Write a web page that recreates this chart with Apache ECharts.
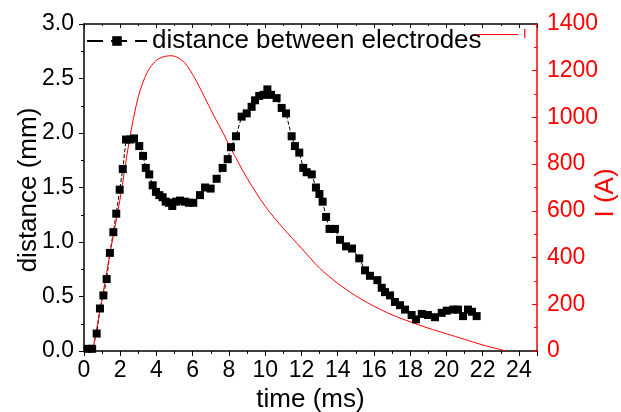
<!DOCTYPE html>
<html>
<head>
<meta charset="utf-8">
<script src="https://cdn.jsdelivr.net/npm/echarts@6/dist/echarts.min.js"></script>
<style>html,body{margin:0;padding:0;background:#fff}#c{width:621px;height:412px}</style>
</head>
<body>
<div id="c"></div>
<script>
const distTime = [0.2,0.45,0.70,0.88,1.07,1.25,1.43,1.62,1.78,1.97,2.14,2.32,2.56,2.76,3.05,3.26,3.41,3.60,3.79,3.97,4.16,4.34,4.51,4.69,4.87,5.08,5.30,5.57,5.79,6.03,6.40,6.68,6.99,7.32,7.65,7.93,8.11,8.39,8.70,8.98,9.25,9.44,9.67,9.91,10.12,10.32,10.63,10.91,11.15,11.46,11.64,11.88,12.10,12.29,12.57,12.80,12.99,13.17,13.36,13.55,13.85,14.13,14.46,14.79,15.19,15.51,15.78,16.19,16.43,16.61,16.89,17.16,17.44,17.72,18.08,18.32,18.64,18.98,19.37,19.74,20.02,20.38,20.64,20.92,21.19,21.41,21.67];
const distance = [0.02,0.02,0.16,0.39,0.51,0.66,0.90,1.09,1.26,1.48,1.67,1.94,1.94,1.95,1.88,1.79,1.68,1.62,1.52,1.46,1.43,1.41,1.37,1.36,1.33,1.37,1.38,1.37,1.36,1.36,1.43,1.50,1.49,1.58,1.68,1.76,1.87,1.97,2.15,2.18,2.24,2.30,2.34,2.35,2.40,2.35,2.32,2.23,2.18,1.97,1.88,1.82,1.68,1.64,1.62,1.50,1.44,1.37,1.23,1.12,1.12,1.02,0.96,0.94,0.85,0.74,0.69,0.65,0.58,0.54,0.51,0.45,0.42,0.38,0.33,0.29,0.34,0.33,0.31,0.35,0.37,0.38,0.38,0.32,0.38,0.36,0.32];
const currTime = [0.48,1.0,1.5,2.0,2.5,3.0,3.5,4.0,4.5,4.85,5.2,5.6,6.1,6.6,7.15,7.7,8.1,9.0,10.0,11.0,12.0,13.0,14.0,15.0,16.0,17.0,18.0,19.0,20.0,21.0,22.0,23.3];
const current = [0,225,445,655,900,1090,1195,1245,1262,1264,1255,1230,1170,1095,1010,930,868,740,620,525,440,355,290,236,192,155,125,98,74,50,26,0];
const xTicks = [0,2,4,6,8,10,12,14,16,18,20,22,24];
const seriesNames = ['distance between electrodes','I'];
const leftAxisName = 'distance (mm)';
const rightAxisName = 'I (A)';

const FONT = 'Liberation Sans';
const chart = echarts.init(document.getElementById('c'), null, {renderer:'canvas'});
const distData = distTime.map((t,i)=>[t, distance[i]]);
const currData = currTime.map((t,i)=>[t, current[i]]);

chart.setOption({
  animation:false,
  backgroundColor:'#fff',
  grid:{left:84,right:84,top:24,bottom:61,containLabel:false,outerBoundsMode:'none'},
  graphic:[{
    type:'text',x:606,y:193,rotation:Math.PI/2,
    style:{text:rightAxisName,fill:'#ff0000',font:'26px "Liberation Sans"',align:'center',verticalAlign:'middle'}
  },{
    type:'text',x:29,y:190,rotation:Math.PI/2,
    style:{text:leftAxisName,fill:'#000',font:'26px "Liberation Sans"',align:'center',verticalAlign:'middle'}
  }],
  legend:[
    {left:86,top:28,padding:0,itemWidth:60,itemHeight:12,data:[{name:seriesNames[0]}],
     lineStyle:{type:[16,8]},
     textStyle:{fontFamily:FONT,fontSize:26,color:'#000'}},
    {left:476,top:28,padding:0,itemWidth:42,itemHeight:14,
     data:[{name:seriesNames[1],icon:'path://M0,6.5L42,6.5L42,7.5L0,7.5Z'}],
     textStyle:{fontFamily:FONT,fontSize:13,color:'#ff0000'}}
  ],
  xAxis:[{
    type:'value',min:0,max:25,interval:2,position:'bottom',
    name:'time (ms)',nameLocation:'middle',nameGap:33,
    nameTextStyle:{fontFamily:FONT,fontSize:26,color:'#000'},
    axisLine:{onZero:false,lineStyle:{color:'#000',width:1.5}},
    axisTick:{inside:false,length:5,lineStyle:{color:'#000'}},
    minorTick:{show:true,splitNumber:2,length:3,lineStyle:{color:'#000'}},
    axisLabel:{fontFamily:FONT,fontSize:23,color:'#000',margin:8,showMaxLabel:false,
      formatter:v=>xTicks.indexOf(v)>=0?String(v):''},
    splitLine:{show:false}
  },{
    type:'value',min:0,max:25,interval:2,position:'top',
    axisLine:{onZero:false,lineStyle:{color:'#000',width:1.5}},
    axisTick:{inside:true,length:4,lineStyle:{color:'#000'}},
    minorTick:{show:true,splitNumber:2,length:2,lineStyle:{color:'#000'}},
    axisLabel:{show:false},splitLine:{show:false}
  }],
  yAxis:[{
    type:'value',min:0,max:3,interval:0.5,position:'left',
    axisLine:{show:true,onZero:false,lineStyle:{color:'#000',width:1.5}},
    axisTick:{show:true,inside:false,length:5,lineStyle:{color:'#000'}},
    minorTick:{show:true,splitNumber:2,length:3,lineStyle:{color:'#000'}},
    axisLabel:{fontFamily:FONT,fontSize:23,color:'#000',margin:10,formatter:v=>v.toFixed(1)},
    splitLine:{show:false}
  },{
    type:'value',min:0,max:1400,interval:200,position:'right',
    axisLine:{show:true,onZero:false,lineStyle:{color:'#ff0000',width:1.5}},
    axisTick:{show:true,inside:true,length:5,lineStyle:{color:'#ff0000'}},
    minorTick:{show:true,splitNumber:2,length:3,lineStyle:{color:'#ff0000'}},
    axisLabel:{fontFamily:FONT,fontSize:23,color:'#ff0000',margin:10,formatter:v=>String(v)},
    splitLine:{show:false}
  }],
  series:[{
    name:seriesNames[0],type:'line',xAxisIndex:0,yAxisIndex:0,data:distData,
    symbol:'rect',symbolSize:8,showAllSymbol:true,
    itemStyle:{color:'#000'},
    lineStyle:{color:'#000',width:1,type:'dashed'}
  },{
    name:seriesNames[1],type:'line',xAxisIndex:0,yAxisIndex:1,data:currData,
    smooth:0.3,showSymbol:false,symbol:'none',
    itemStyle:{color:'#ff0000'},
    lineStyle:{color:'#ff0000',width:1}
  }]
});
</script>
</body>
</html>
